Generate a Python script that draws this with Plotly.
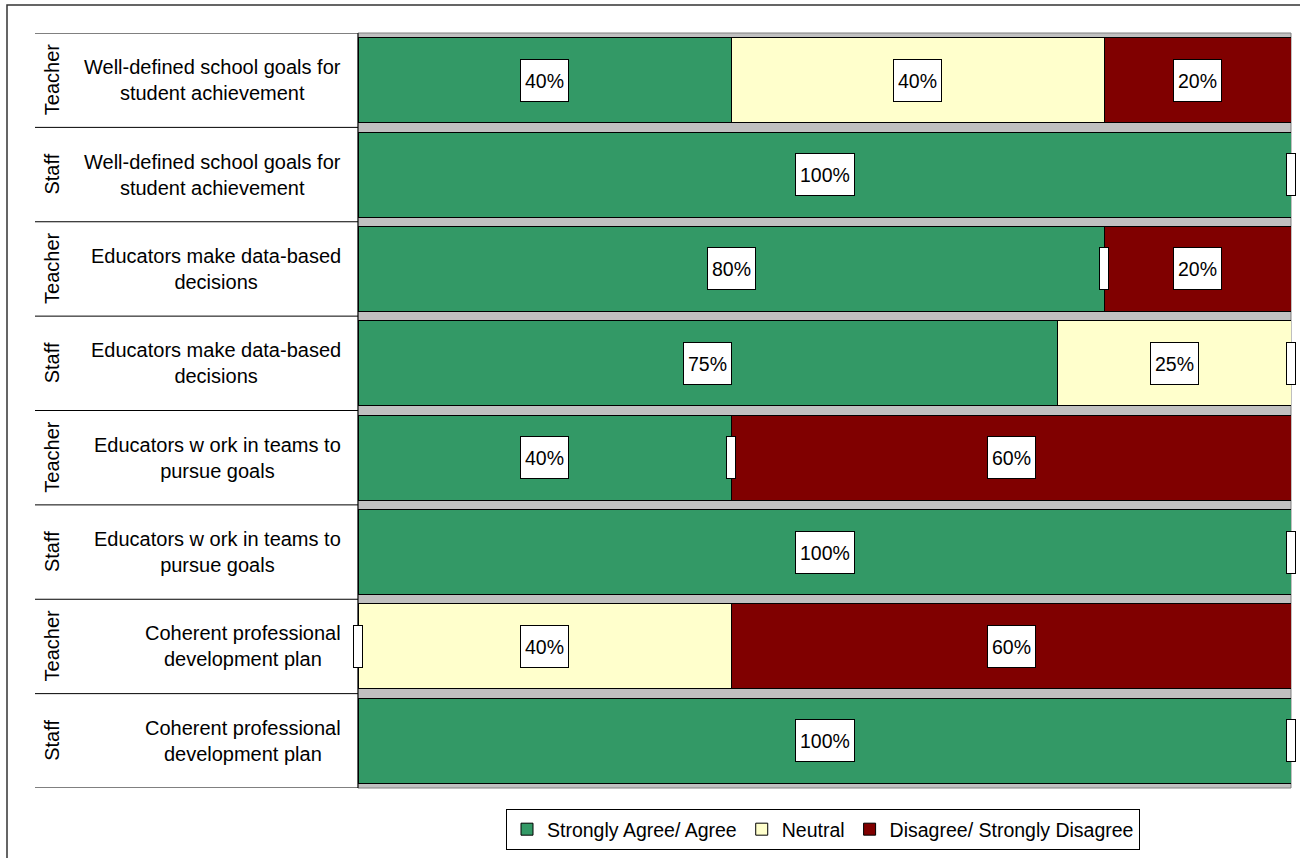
import plotly.graph_objects as go

groups = ["Teacher", "Staff", "Teacher", "Staff", "Teacher", "Staff", "Teacher", "Staff"]
items = [
    "Well-defined school goals for<br>student achievement",
    "Well-defined school goals for<br>student achievement",
    "Educators make data-based<br>decisions",
    "Educators make data-based<br>decisions",
    "Educators w ork in teams to<br>pursue goals",
    "Educators w ork in teams to<br>pursue goals",
    "Coherent professional<br>development plan",
    "Coherent professional<br>development plan",
]
series_names = ["Strongly Agree/ Agree", "Neutral", "Disagree/ Strongly Disagree"]
agree = [40, 100, 80, 75, 40, 100, 0, 100]
neutral = [40, 0, 0, 25, 0, 0, 40, 0]
disagree = [20, 0, 20, 0, 60, 0, 60, 0]
colors = ["#339966", "#FFFFCC", "#800000"]

W, H = 1300, 858
L, R, T, B = 358, 9, 33, 69
pw = W - L - R
ph = H - T - B

def px_x(px):
    return (px - L) / pw

def px_y(py):
    return (H - B - py) / ph

rows = list(range(len(groups)))
series = [agree, neutral, disagree]

fig = go.Figure()
for name, vals, col in zip(series_names, series, colors):
    fig.add_trace(go.Bar(
        y=rows, x=vals, name=name, orientation="h",
        marker=dict(color=col, line=dict(color="#000000", width=1)),
        hoverinfo="skip",
    ))

FAM = "Liberation Sans, Arial, sans-serif"
font = dict(family=FAM, size=19.5, color="#000000")
font_lbl = dict(family=FAM, size=20, color="#000000")

annotations = []
for i in rows:
    cum = 0
    for vals in series:
        v = vals[i]
        if v > 0:
            annotations.append(dict(
                x=cum + v / 2, y=i, xref="x", yref="y", text=f"{v}%",
                showarrow=False, font=font, bgcolor="#FFFFFF",
                bordercolor="#000000", borderwidth=1, borderpad=4, height=33,
                xanchor="center", yanchor="middle",
            ))
        else:
            annotations.append(dict(
                x=cum, y=i, xref="x", yref="y", text=" ",
                showarrow=False, font=font, bgcolor="#FFFFFF",
                bordercolor="#000000", borderwidth=1, borderpad=0,
                width=8, height=41, xanchor="center", yanchor="middle",
            ))
        cum += v
    annotations.append(dict(
        x=px_x(343), y=i, xref="paper", yref="y", text=items[i],
        showarrow=False, xanchor="right", yanchor="middle", align="center",
        font=font_lbl,
    ))
    annotations.append(dict(
        x=px_x(52), y=i, xref="paper", yref="y", text=groups[i],
        showarrow=False, textangle=-90, xanchor="center", yanchor="middle",
        font=font_lbl,
    ))

shapes = []
# outer chart frame
shapes.append(dict(type="rect", xref="paper", yref="paper",
                   x0=px_x(7), x1=px_x(1320), y0=px_y(880), y1=px_y(5),
                   line=dict(color="#333333", width=1.5), fillcolor="rgba(0,0,0,0)"))
# label table horizontal lines
for k in range(len(rows) + 1):
    shapes.append(dict(type="line", xref="paper", yref="y",
                       x0=px_x(35), x1=0, y0=k - 0.5, y1=k - 0.5,
                       line=dict(color="#808080" if k == 0 else "#000000",
                                 width=2 if k == 0 else 1)))
shapes.append(dict(type="line", xref="paper", yref="y", x0=0, x1=0,
                   y0=-0.5, y1=len(rows) - 0.5, line=dict(color="#000000", width=1)))
# plot area border
shapes.append(dict(type="rect", xref="paper", yref="paper", x0=0, x1=1, y0=0, y1=1,
                   line=dict(color="#808080", width=1), fillcolor="rgba(0,0,0,0)",
                   layer="below"))

fig.update_layout(
    width=W, height=H,
    margin=dict(l=L, r=R, t=T, b=B, pad=0),
    barmode="stack", bargap=0.1,
    paper_bgcolor="#FFFFFF", plot_bgcolor="#C0C0C0",
    font=font,
    xaxis=dict(range=[0, 100], showticklabels=False, showgrid=False,
               zeroline=False, showline=False, ticks="", fixedrange=True),
    yaxis=dict(range=[len(rows) - 0.5, -0.5], showticklabels=False, showgrid=False,
               zeroline=False, showline=False, ticks="", fixedrange=True),
    legend=dict(orientation="h", x=px_x(823), xanchor="center",
                y=px_y(809), yanchor="top", bgcolor="#FFFFFF",
                bordercolor="#000000", borderwidth=1, font=font,
                traceorder="normal", itemwidth=30),
    annotations=annotations,
    shapes=shapes,
    showlegend=True,
)

fig.write_html(
    "out.html",
    config={"displayModeBar": False},
    post_script="document.body.style.margin='0';document.body.style.overflow='hidden';",
)
